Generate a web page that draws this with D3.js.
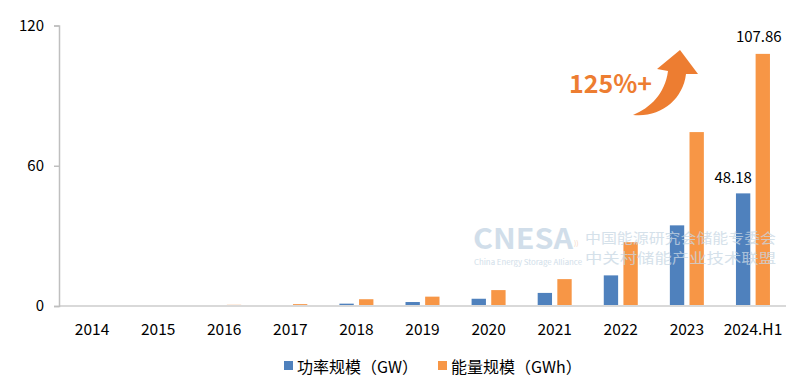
<!DOCTYPE html>
<html>
<head>
<meta charset="utf-8">
<script src="https://cdn.jsdelivr.net/npm/d3@7"></script>
<style>
  body { margin: 0; background: #fff; }
  text { font-family: "Noto Sans CJK SC", "Noto Sans", sans-serif; }
</style>
</head>
<body>
<script>
// data
const years = ['2014', '2015', '2016', '2017', '2018', '2019', '2020', '2021', '2022', '2023', '2024.H1']
const power = [0.1, 0.1, 0.2, 0.3, 1.0, 1.7, 3.1, 5.6, 13.1, 34.5, 48.18]     // GW
const energy = [0.1, 0.1, 0.5, 0.8, 2.9, 4.0, 6.8, 11.5, 27.3, 74.4, 107.86]  // GWh
const yTicks = [0, 60, 120]
const seriesNames = ['功率规模（GW）', '能量规模（GWh）']
const colors = ['#4F81BD', '#F79646']

const m = { width: 800, height: 387, left: 59, right: 786, top: 25.5, bottom: 306 }

const svg = d3.select('body').append('svg')
    .attr('width', m.width)
    .attr('height', m.height)

const x = d3.scaleBand().domain(years).range([m.left, m.right])
const y = d3.scaleLinear().domain([0, 120]).range([m.bottom, m.top])

// bars
const sub = d3.scaleBand().domain([0, 1]).range([0, 34]).paddingInner(0.27)
const off = (x.bandwidth() - 34) / 2
const bars = [power, energy]
bars.forEach(function (vals, i) {
    svg.append('g').selectAll('rect')
        .data(vals)
        .enter()
        .append('rect')
        .attr('x', function (d, j) { return x(years[j]) + off + sub(i) })
        .attr('y', function (d) { return y(d) })
        .attr('width', sub.bandwidth())
        .attr('height', function (d) { return m.bottom - y(d) })
        .attr('fill', colors[i])
})

// watermark (sits on top of the bars, faint)
const wm = svg.append('g').attr('opacity', 0.75)
wm.append('text').attr('x', 473).attr('y', 249).text('CNESA')
    .attr('font-family', '"DejaVu Sans", sans-serif').attr('font-weight', 'bold')
    .attr('font-size', 28).attr('fill', '#c2d4e3')
    .attr('textLength', 100).attr('lengthAdjust', 'spacingAndGlyphs')
wm.append('text').attr('x', 574).attr('y', 246).text('))')
    .attr('font-size', 7).attr('fill', '#f3c9a8')
wm.append('text').attr('x', 474).attr('y', 265).text('China Energy Storage Alliance')
    .attr('font-size', 7.5).attr('fill', '#c2d4e3')
    .attr('textLength', 108).attr('lengthAdjust', 'spacingAndGlyphs')
wm.append('text').attr('x', 585).attr('y', 243).text('中国能源研究会储能专委会')
    .attr('font-size', 13.5).attr('fill', '#c8d7e4')
    .attr('textLength', 191).attr('lengthAdjust', 'spacingAndGlyphs')
wm.append('text').attr('x', 585).attr('y', 263).text('中关村储能产业技术联盟')
    .attr('font-size', 13.5).attr('fill', '#c8d7e4')
    .attr('textLength', 191).attr('lengthAdjust', 'spacingAndGlyphs')

// x axis line
svg.append('line')
    .attr('x1', m.left).attr('x2', m.right)
    .attr('y1', m.bottom).attr('y2', m.bottom)
    .attr('stroke', '#d9d9d9').attr('stroke-width', 2)

// y axis
const yAxis = svg.append('g')
    .attr('transform', 'translate(' + m.left + ',0)')
    .call(d3.axisLeft(y).tickValues(yTicks).tickSize(5).tickPadding(10))
yAxis.selectAll('path, line').attr('stroke', '#bfbfbf').attr('stroke-width', 1.5)
yAxis.selectAll('text').attr('font-size', 15).attr('fill', '#000')
    .attr('font-family', '"Noto Sans CJK SC", sans-serif')

// x labels
svg.append('g').selectAll('text')
    .data(years)
    .enter()
    .append('text')
    .attr('x', function (d) { return x(d) + x.bandwidth() / 2 })
    .attr('y', 335)
    .attr('text-anchor', 'middle')
    .attr('font-size', 15.5)
    .text(function (d) { return d })

// value labels for last year
const last = years[years.length - 1]
svg.append('text')
    .attr('x', x(last) + off + sub(0) + sub.bandwidth() / 2 - 10)
    .attr('y', 183).attr('text-anchor', 'middle').attr('font-size', 15)
    .text(power[power.length - 1].toFixed(2))
svg.append('text')
    .attr('x', x(last) + off + sub(1) + sub.bandwidth() / 2 - 4)
    .attr('y', 42).attr('text-anchor', 'middle').attr('font-size', 15)
    .text(energy[energy.length - 1].toFixed(2))

// growth arrow
svg.append('path')
    .attr('d', 'M633,115 C660,118 683,100 686,74 L698,74 L680,50 L657,69 L668,71 C665,94 650,108 633,115 Z')
    .attr('fill', '#ED7D31')
svg.append('text')
    .attr('x', 569).attr('y', 93)
    .attr('font-size', 25).attr('font-weight', 'bold')
    .attr('fill', '#ED7D31')
    .text('125%+')

// legend
const legend = svg.append('g')
const legendX = [284, 438]
seriesNames.forEach(function (name, i) {
    legend.append('rect')
        .attr('x', legendX[i]).attr('y', 361)
        .attr('width', 9).attr('height', 9)
        .attr('fill', colors[i])
    legend.append('text')
        .attr('x', legendX[i] + 13).attr('y', 373)
        .attr('font-size', 16)
        .text(name)
})
</script>
</body>
</html>
